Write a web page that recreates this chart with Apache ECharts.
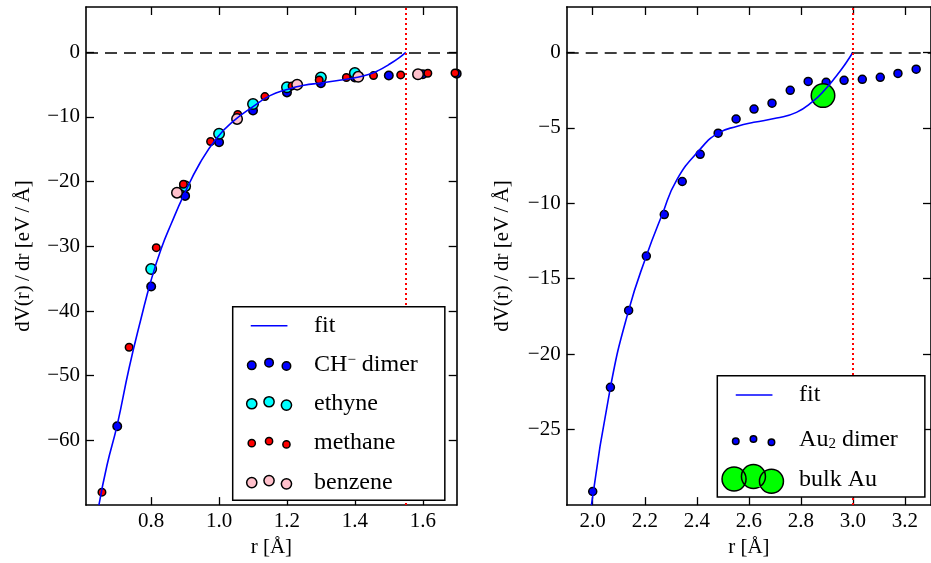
<!DOCTYPE html>
<html>
<head>
<meta charset="utf-8">
<script src="https://cdn.jsdelivr.net/npm/echarts@6/dist/echarts.min.js"></script>
<style>
  html, body { margin: 0; padding: 0; background: #fff; }
  #chart { width: 931px; height: 563px; }
</style>
</head>
<body>
<div id="chart"></div>
<script>
// ---- Left panel: hydrocarbon dimers, r [Å] vs dV/dr [eV/Å] ----
const chDimer = [[0.70,-57.8],[0.80,-36.2],[0.90,-22.2],[1.00,-13.9],[1.10,-9.0],[1.20,-6.2],[1.30,-4.8],[1.40,-3.9],[1.50,-3.6],[1.60,-3.4],[1.70,-3.3]];
const ethyne = [[0.80,-33.5],[0.90,-20.7],[1.00,-12.6],[1.10,-8.0],[1.20,-5.4],[1.30,-3.9],[1.40,-3.2]];
const methane = [[0.655,-68.0],[0.735,-45.6],[0.815,-30.2],[0.895,-20.4],[0.975,-13.8],[1.055,-9.6],[1.135,-6.85],[1.215,-5.2],[1.295,-4.3],[1.375,-3.9],[1.455,-3.6],[1.535,-3.5],[1.615,-3.25],[1.695,-3.2]];
const benzene = [[0.876,-21.7],[1.053,-10.3],[1.23,-5.0],[1.41,-3.8],[1.586,-3.4]];
const fitLeft = [[0.646,-70.0],[0.67,-63.8],[0.70,-57.6],[0.735,-48.8],[0.77,-41.2],[0.80,-35.2],[0.83,-30.3],[0.86,-26.4],[0.895,-22.2],[0.945,-17.0],[0.994,-13.2],[1.043,-10.6],[1.10,-8.4],[1.15,-6.7],[1.20,-5.75],[1.25,-5.1],[1.30,-4.75],[1.35,-4.35],[1.40,-3.95],[1.44,-3.45],[1.47,-2.8],[1.50,-1.9],[1.53,-0.85],[1.55,0.0]];
const cutoffLeft = 1.55;

// ---- Right panel: gold, r [Å] vs dV/dr [eV/Å] ----
const au2Dimer = [[2.0,-29.1],[2.068,-22.2],[2.138,-17.1],[2.206,-13.5],[2.275,-10.75],[2.344,-8.56],[2.413,-6.76],[2.482,-5.36],[2.551,-4.42],[2.620,-3.76],[2.689,-3.37],[2.759,-2.52],[2.828,-1.93],[2.897,-1.99],[2.966,-1.86],[3.036,-1.79],[3.105,-1.66],[3.173,-1.40],[3.243,-1.12]];
const bulkAu = [[2.885,-2.87]];
const fitRight = [[1.995,-30.0],[2.068,-22.2],[2.138,-17.1],[2.206,-13.5],[2.267,-10.75],[2.323,-8.45],[2.414,-6.4],[2.482,-5.36],[2.556,-4.9],[2.619,-4.64],[2.707,-4.36],[2.783,-3.98],[2.846,-3.26],[2.886,-2.6],[2.934,-1.62],[2.972,-0.74],[3.0,0.0]];
const cutoffRight = 3.0;

// ---- Tick values ----
const leftXTicks = [0.8, 1.0, 1.2, 1.4, 1.6];
const leftYTicks = [-60, -50, -40, -30, -20, -10, 0];
const rightXTicks = [2.0, 2.2, 2.4, 2.6, 2.8, 3.0, 3.2];
const rightYTicks = [-25, -20, -15, -10, -5, 0];

const FONT = 'Liberation Serif';
const BLACK = '#000';
const frameLine = { show: true, onZero: false, lineStyle: { color: BLACK, width: 1.6 } };
const tickStyle = { color: BLACK, width: 1.3 };
const labelFont = { color: BLACK, fontFamily: FONT, fontSize: 21 };

const fmtX = v => v.toFixed(1);
const fmtY = v => (v < 0 ? '\u2212' + Math.abs(v) : String(v));

// Bottom axis carries labels; top axis only mirrors the inward ticks
function xAxisPair(grid, min, max, ticks) {
  return [
    {
      type: 'value', gridIndex: grid, min, max, position: 'bottom',
      name: 'r [Å]', nameLocation: 'middle', nameGap: 29,
      nameTextStyle: labelFont,
      axisLine: frameLine, splitLine: { show: false },
      axisTick: { show: true, inside: true, length: 8, lineStyle: tickStyle, customValues: ticks },
      axisLabel: Object.assign({ customValues: ticks, formatter: fmtX, margin: 6 }, labelFont)
    },
    {
      type: 'value', gridIndex: grid, min, max, position: 'top',
      axisLine: frameLine, splitLine: { show: false },
      axisTick: { show: true, inside: true, length: 8, lineStyle: tickStyle, customValues: ticks },
      axisLabel: { show: false, customValues: ticks }
    }
  ];
}

// Left axis carries labels and title; right axis only mirrors the inward ticks
function yAxisPair(grid, min, max, ticks, gap) {
  return [
    {
      type: 'value', gridIndex: grid, min, max, position: 'left',
      name: 'dV(r)\u2009/\u2009dr [eV\u2009/\u2009Å]', nameLocation: 'middle', nameGap: gap,
      nameTextStyle: labelFont,
      axisLine: frameLine, splitLine: { show: false },
      axisTick: { show: true, inside: true, length: 8, lineStyle: tickStyle, customValues: ticks },
      axisLabel: Object.assign({ customValues: ticks, formatter: fmtY, margin: 6 }, labelFont)
    },
    {
      type: 'value', gridIndex: grid, min, max, position: 'right',
      axisLine: frameLine, splitLine: { show: false },
      axisTick: { show: true, inside: true, length: 8, lineStyle: tickStyle, customValues: ticks },
      axisLabel: { show: false, customValues: ticks }
    }
  ];
}

function scatter(name, data, color, size, xi, yi) {
  return {
    type: 'scatter', name, data, xAxisIndex: xi, yAxisIndex: yi,
    symbol: 'circle', symbolSize: size, clip: false, silent: true, z: 2,
    itemStyle: { color, borderColor: BLACK, borderWidth: 1.5, opacity: 1 }
  };
}

// Fit curve plus the zero reference line and the cutoff radius marker
function fitLine(data, cutoff, xi, yi) {
  return {
    type: 'line', name: 'fit', data, xAxisIndex: xi, yAxisIndex: yi,
    symbol: 'none', showSymbol: false, smooth: 0.5, silent: true, z: 3,
    lineStyle: { color: '#0000ff', width: 1.6 },
    itemStyle: { color: '#0000ff' },
    markLine: {
      silent: true, symbol: 'none', label: { show: false },
      data: [
        { yAxis: 0, lineStyle: { color: BLACK, type: [12, 7], width: 1.6 } },
        { xAxis: cutoff, lineStyle: { color: '#ff0000', type: [2, 3], width: 2 } }
      ]
    }
  };
}

// Legend glyphs: three offset circles per scatter entry, a short bar for the fit
function circle(cx, cy, r) {
  return 'M' + (cx - r) + ',' + cy + 'a' + r + ',' + r + ' 0 1,0 ' + (2 * r) + ',0' +
         'a' + r + ',' + r + ' 0 1,0 ' + (-2 * r) + ',0Z';
}
function glyph(w, h, body) { return 'path://M0,0M' + w + ',' + h + body; }
function dots(w, h, xs, ys, r) {
  return glyph(w, h, xs.map((x, i) => circle(x, ys[i], r)).join(''));
}
function bar(w, h, x0, x1, y) {
  return glyph(w, h, 'M' + x0 + ',' + (y - 0.8) + 'H' + x1 + 'V' + (y + 0.8) + 'H' + x0 + 'Z');
}

const richText = {
  t: { fontFamily: FONT, fontSize: 24, color: BLACK, lineHeight: 24 },
  sup: { fontFamily: FONT, fontSize: 15, color: BLACK, lineHeight: 15, verticalAlign: 'top' },
  sub: { fontFamily: FONT, fontSize: 15, color: BLACK, lineHeight: 15, verticalAlign: 'bottom' }
};
function legendFormatter(name) {
  if (name === 'CH\u207B dimer') return '{t|CH}{sup|\u2212}{t| dimer}';
  if (name === 'Au\u2082 dimer') return '{t|Au}{sub|2}{t| dimer}';
  return '{t|' + name + '}';
}

const LW = 67.6, LH = 24, LX = [10.3, 27.6, 45];
const RW = 73, RH = 30, RX = [14.7, 32.4, 50.4];

const legendBase = {
  orient: 'vertical', selectedMode: false, z: 20,
  backgroundColor: '#fff', borderColor: BLACK, borderWidth: 1.5, borderRadius: 0,
  textStyle: { color: BLACK, fontFamily: FONT, fontSize: 24, rich: richText },
  formatter: legendFormatter
};

const option = {
  animation: false,
  backgroundColor: '#fff',
  grid: [
    { left: 86, top: 7, width: 370.7, height: 500, show: false, containLabel: false },
    { left: 566.7, top: 7, width: 369.6, height: 500, show: false, containLabel: false }
  ],
  xAxis: [...xAxisPair(0, 0.608, 1.70, leftXTicks), ...xAxisPair(1, 1.9, 3.3, rightXTicks)],
  yAxis: [...yAxisPair(0, -70, 7, leftYTicks, 52), ...yAxisPair(1, -30, 3, rightYTicks, 54)],
  legend: [
    Object.assign({}, legendBase, {
      left: 232.7, top: 306.7, padding: [7, 27, 5, 8],
      itemWidth: LW, itemHeight: LH, itemGap: 13.9,
      data: [
        { name: 'fit', icon: bar(LW, LH, 9.3, 46, 12), itemStyle: { color: '#0000ff', borderWidth: 0 } },
        { name: 'CH\u207B dimer', icon: dots(LW, LH, LX, [13, 10.3, 13.7], 4.25), itemStyle: { color: '#0000ff', borderColor: BLACK, borderWidth: 1.5 } },
        { name: 'ethyne', icon: dots(LW, LH, LX, [12, 10, 13.3], 5.1), itemStyle: { color: '#00ffff', borderColor: BLACK, borderWidth: 1.5 } },
        { name: 'methane', icon: dots(LW, LH, LX, [12, 10, 13.3], 3.6), itemStyle: { color: '#ff0000', borderColor: BLACK, borderWidth: 1.5 } },
        { name: 'benzene', icon: dots(LW, LH, LX, [12, 10, 13.3], 5.1), itemStyle: { color: '#ffc0cb', borderColor: BLACK, borderWidth: 1.5 } }
      ]
    }),
    Object.assign({}, legendBase, {
      left: 717.3, top: 375.7, padding: [4.3, 27, 1.7, 3],
      itemWidth: RW, itemHeight: RH, itemGap: 11.15,
      data: [
        { name: 'fit', icon: bar(RW, RH, 14.7, 51.4, 15), itemStyle: { color: '#0000ff', borderWidth: 0 } },
        { name: 'Au\u2082 dimer', icon: dots(RW, RH, RX, [19.3, 17, 20.3], 3.25), itemStyle: { color: '#0000ff', borderColor: BLACK, borderWidth: 1.5 }, textStyle: { padding: [6, 0, 0, 0] } },
        { name: 'bulk Au', icon: dots(RW, RH, [13, 32.4, 50.4], [14.4, 12, 16.7], 12), itemStyle: { color: '#00ff00', borderColor: BLACK, borderWidth: 1.5 } }
      ]
    })
  ],
  series: [
    scatter('CH\u207B dimer', chDimer, '#0000ff', 8.5, 0, 0),
    scatter('ethyne', ethyne, '#00ffff', 10.5, 0, 0),
    scatter('methane', methane, '#ff0000', 7.5, 0, 0),
    scatter('benzene', benzene, '#ffc0cb', 10.5, 0, 0),
    fitLine(fitLeft, cutoffLeft, 0, 0),
    scatter('Au\u2082 dimer', au2Dimer, '#0000ff', 8, 2, 2),
    scatter('bulk Au', bulkAu, '#00ff00', 23.5, 2, 2),
    fitLine(fitRight, cutoffRight, 2, 2)
  ]
};

const chart = echarts.init(document.getElementById('chart'), null, { renderer: 'canvas' });
chart.setOption(option);
</script>
</body>
</html>
